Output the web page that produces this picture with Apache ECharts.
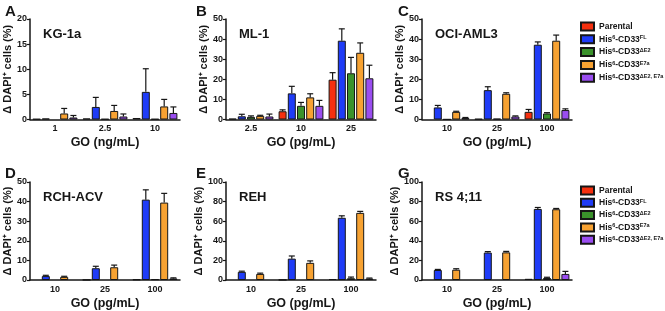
<!DOCTYPE html>
<html>
<head>
<meta charset="utf-8">
<script src="https://cdn.jsdelivr.net/npm/echarts@6/dist/echarts.min.js"></script>
<style>
  html, body { margin: 0; padding: 0; background: #fff; }
  #main { width: 665px; height: 311px; }
</style>
</head>
<body>
<div id="main"></div>
<script>
// series (cell lines variants)
var seriesNames = ["Parental", "FL", "dE2", "E7a", "dE2E7a"];
var seriesColors = ["#F5300F", "#1F3CF7", "#3A922B", "#F7A232", "#9A4DF0"];

// A  KG-1a
var kg1aCats = ["1", "2.5", "10"];
var kg1aMean = [[0.1, 0.2, 0.3], [0.2, 2.5, 5.5], [null, 0.1, 0.1], [1.2, 1.7, 2.6], [0.4, 0.6, 1.3]];
var kg1aErr  = [[0, 0, 0], [0, 1.9, 4.6], [0, 0, 0], [1.0, 1.1, 1.4], [0.4, 0.5, 1.2]];

// B  ML-1
var ml1Cats = ["2.5", "10", "25"];
var ml1Mean = [[0.4, 4.1, 19.8], [1.6, 13.0, 39.2], [1.3, 6.8, 23.0], [1.8, 11.0, 33.2], [1.5, 6.8, 20.5]];
var ml1Err  = [[0, 0.7, 3.5], [1.0, 3.5, 5.9], [0.5, 1.7, 7.9], [0.3, 1.8, 4.9], [1.2, 2.7, 6.5]];

// C  OCI-AML3
var ociCats = ["10", "25", "100"];
var ociMean = [[null, 0.3, 3.8], [6.0, 14.6, 37.2], [0.1, 0.4, 3.0], [3.8, 12.8, 39.2], [0.7, 1.5, 4.7]];
var ociErr  = [[0, 0, 1.2], [1.0, 1.7, 1.4], [0, 0, 0.4], [0.3, 0.5, 2.8], [0.3, 0.3, 0.6]];

// D  RCH-ACV
var rchCats = ["10", "25", "100"];
var rchMean = [[null, 0.1, 0.3], [2.0, 6.0, 41.0], [null, null, 0.4], [1.6, 6.5, 39.5], [null, null, 0.8]];
var rchErr  = [[0, 0, 0], [0.4, 1.0, 5.0], [0, 0, 0], [0.3, 1.1, 4.7], [0, 0, 0.3]];

// E  REH
var rehCats = ["10", "25", "100"];
var rehMean = [[null, 0.2, 1.0], [8.3, 21.8, 63.5], [null, null, 1.8], [6.2, 17.5, 68.5], [null, null, 1.5]];
var rehErr  = [[0, 0, 0], [0.7, 2.7, 2.0], [0, 0, 1.2], [0.8, 2.0, 1.5], [0, 0, 0.5]];

// G  RS 4;11
var rsCats = ["10", "25", "100"];
var rsMean = [[null, null, 1.2], [10.2, 28.0, 72.5], [null, null, 2.0], [10.5, 28.2, 72.2], [null, null, 6.2]];
var rsErr  = [[0, 0, 0], [0.6, 1.0, 1.5], [0, 0, 0.8], [1.0, 1.0, 0.8], [0, 0, 2.6]];

var panels = [
  { letter: "A", title: "KG-1a",    cats: kg1aCats, mean: kg1aMean, err: kg1aErr, max: 20,  step: 5,  unit: "GO (ng/mL)" },
  { letter: "B", title: "ML-1",     cats: ml1Cats,  mean: ml1Mean,  err: ml1Err,  max: 50,  step: 10, unit: "GO (pg/mL)" },
  { letter: "C", title: "OCI-AML3", cats: ociCats,  mean: ociMean,  err: ociErr,  max: 50,  step: 10, unit: "GO (pg/mL)" },
  { letter: "D", title: "RCH-ACV",  cats: rchCats,  mean: rchMean,  err: rchErr,  max: 50,  step: 10, unit: "GO (pg/mL)" },
  { letter: "E", title: "REH",      cats: rehCats,  mean: rehMean,  err: rehErr,  max: 100, step: 20, unit: "GO (pg/mL)" },
  { letter: "G", title: "RS 4;11",  cats: rsCats,   mean: rsMean,   err: rsErr,   max: 100, step: 20, unit: "GO (pg/mL)" }
];

var legendText = {
  Parental: "{b|Parental}",
  FL: "{b|His}{s|6}{b|-CD33}{s|FL}",
  dE2: "{b|His}{s|6}{b|-CD33}{s|ΔE2}",
  E7a: "{b|His}{s|6}{b|-CD33}{s|E7a}",
  dE2E7a: "{b|His}{s|6}{b|-CD33}{s|ΔE2, E7a}"
};

// layout
var colLeft = [30, 226, 422];
var rowTop = [19, 182];
var plotW = 150, plotH = 100.5;
var barW = 8, barStep = 9.2;
var ink = "#161616";
var font = "Liberation Sans";

var myChart = echarts.init(document.getElementById("main"));

var grids = [], xAxes = [], yAxes = [], series = [], titles = [];

panels.forEach(function (p, i) {
  var col = i % 3, row = Math.floor(i / 3);
  grids.push({ left: colLeft[col], top: rowTop[row], width: plotW, height: plotH });

  xAxes.push({
    type: "category", gridIndex: i, data: p.cats,
    name: p.unit, nameLocation: "middle", nameGap: 17,
    nameTextStyle: { fontFamily: font, fontWeight: "bold", fontSize: 12.5, color: ink },
    axisLine: { lineStyle: { color: ink, width: 1.5 } },
    axisTick: { alignWithLabel: true, length: 3, lineStyle: { color: ink, width: 1.2 } },
    axisLabel: { fontFamily: font, fontWeight: "bold", fontSize: 9, color: ink, margin: 5 }
  });

  yAxes.push({
    type: "value", gridIndex: i, min: 0, max: p.max, interval: p.step,
    name: "Δ DAPI⁺ cells (%)", nameLocation: "middle", nameGap: 17, nameRotate: 90,
    nameTextStyle: { fontFamily: font, fontWeight: "bold", fontSize: 11, color: ink },
    axisLine: { show: true, lineStyle: { color: ink, width: 1.5 } },
    axisTick: { show: true, length: 3, lineStyle: { color: ink, width: 1.2 } },
    splitLine: { show: false },
    axisLabel: { fontFamily: font, fontWeight: "bold", fontSize: 9, color: ink, margin: 3 }
  });

  seriesNames.forEach(function (name, s) {
    series.push({
      type: "bar", name: name, xAxisIndex: i, yAxisIndex: i,
      data: p.mean[s], barWidth: barW, barGap: "15%",
      itemStyle: { color: seriesColors[s], borderColor: ink, borderWidth: 1 },
      silent: true
    });
  });

  var errData = [];
  p.mean.forEach(function (vals, s) {
    vals.forEach(function (v, c) {
      var e = p.err[s][c];
      if (v != null && e > 0) errData.push([c, v, v + e, s]);
    });
  });
  series.push({
    type: "custom", xAxisIndex: i, yAxisIndex: i, z: 5, silent: true,
    data: errData,
    renderItem: function (params, api) {
      var c = api.value(0), s = api.value(3);
      var a = api.coord([c, api.value(1)]);
      var b = api.coord([c, api.value(2)]);
      var x = a[0] + (s - 2) * barStep;
      var st = { stroke: ink, lineWidth: 1.2 };
      return {
        type: "group",
        children: [
          { type: "line", shape: { x1: x, y1: a[1], x2: x, y2: b[1] }, style: st },
          { type: "line", shape: { x1: x - 3, y1: b[1], x2: x + 3, y2: b[1] }, style: st }
        ]
      };
    }
  });

  titles.push({
    text: p.title, left: colLeft[col] + 8, top: rowTop[row] + 4,
    textStyle: { fontFamily: font, fontWeight: "bold", fontSize: 13, color: ink }
  });
  titles.push({
    text: p.letter, left: [0, 191, 393][col], top: [-1, 161][row],
    textStyle: { fontFamily: font, fontWeight: "bold", fontSize: 15, color: ink }
  });
});

function makeLegend(top, gap) {
  return {
    orient: "vertical", left: 580, top: top, padding: 0,
    data: seriesNames, icon: "rect",
    itemWidth: 13, itemHeight: 8, itemGap: gap,
    formatter: function (name) { return legendText[name]; },
    textStyle: {
      rich: {
        b: { fontFamily: font, fontWeight: "bold", fontSize: 8.5, color: ink, lineHeight: 9 },
        s: { fontFamily: font, fontWeight: "bold", fontSize: 5.5, color: ink, verticalAlign: "top", lineHeight: 6 }
      }
    }
  };
}

var option = {
  animation: false,
  backgroundColor: "#fff",
  title: titles,
  legend: [makeLegend(21.5, 2.8), makeLegend(185.5, 2.3)],
  grid: grids,
  xAxis: xAxes,
  yAxis: yAxes,
  series: series
};

myChart.setOption(option);
</script>
</body>
</html>
